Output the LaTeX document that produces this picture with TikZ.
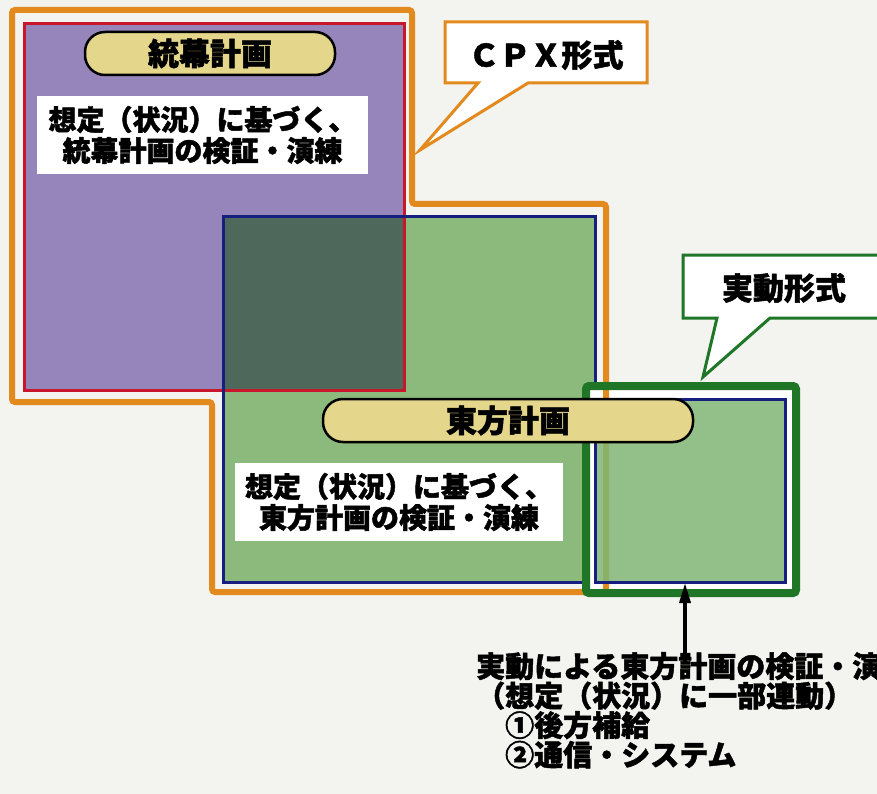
\documentclass[tikz,border=0pt]{standalone}
\usepackage{fontspec}
\setmainfont{Noto Sans CJK JP}[BoldFeatures={FakeBold=1.6}]
\usetikzlibrary{arrows.meta}

\definecolor{paper}{RGB}{243,243,239}
\definecolor{toubakufill}{RGB}{150,133,186}
\definecolor{touhoufill}{RGB}{140,186,124}
\definecolor{overlapfill}{RGB}{78,104,92}
\definecolor{jdfill}{RGB}{128,182,116}
\definecolor{cpxorange}{RGB}{226,138,30}
\definecolor{toubakured}{RGB}{200,22,42}
\definecolor{touhoublue}{RGB}{22,30,128}
\definecolor{jdgreen}{RGB}{30,118,38}
\definecolor{pillyellow}{RGB}{228,214,138}

\begin{document}
\begin{tikzpicture}[x=1pt,y=-1pt,
		pill/.style={draw=black,line width=2.5pt,fill=pillyellow,rounded corners=20pt,
			minimum height=43pt,inner sep=0pt,font=\fontsize{31}{31}\selectfont\bfseries},
		whitebox/.style={fill=white,inner xsep=8pt,inner ysep=0pt,align=center,
			font=\fontsize{28}{31}\selectfont\bfseries},
		tag/.style={inner sep=0pt,font=\fontsize{31}{31}\selectfont\bfseries}]
		\useasboundingbox [fill=paper] (0,0) rectangle (877,794);
		% Regions
			\fill [toubakufill] (24,24) rectangle (404,390);
			\fill [touhoufill] (223,217) rectangle (595,582);
			\fill [overlapfill] (223,217) rectangle (404,390);
			\draw [toubakured,line width=3pt] (24,24) rectangle (404,390);
			\draw [touhoublue,line width=3pt] (223,217) rectangle (595,582);
			\fill [white] (586,386) rectangle (796,593);
			\draw [cpxorange,line width=6pt,rounded corners=3pt] (12,10) -- (412,10) -- (412,204) -- (606,204)
				-- (606,592) -- (212,592) -- (212,402) -- (12,402) -- cycle;
			\draw [touhoublue,line width=3pt,fill=jdfill,fill opacity=0.85] (595,399) rectangle (785,582);
			\draw [jdgreen,line width=8pt,rounded corners=3pt] (586,386) rectangle (796,593);
			\coordinate (jdin) at (685,583);

		% Callouts
			\draw [cpxorange,line width=3pt,fill=white] (445,22) -- (647,22) -- (647,83) -- (528,83)
				-- (420,150) -- (478,83) -- (445,83) -- cycle;
			\node [tag] (cpx) at (546,55) {ＣＰＸ形式};
			\draw [jdgreen,line width=3pt,fill=white] (683,255) -- (900,255) -- (900,318) -- (770,318)
				-- (703,377) -- (717,318) -- (683,318) -- cycle;
			\node [tag] (jd) at (784,288) {実動形式};

		% Labels
			\node [pill,minimum width=250pt] (toubaku) at (210,53.5) {統幕計画};
			\node [whitebox,minimum width=331pt,minimum height=78pt] (sotei1) at (202.5,135)
				{想定（状況）に基づく、\\統幕計画の検証・演練};
			\node [pill,minimum width=370pt] (touhou) at (508,420.5) {東方計画};
			\node [whitebox,minimum width=328pt,minimum height=78pt] (sotei2) at (399,502)
				{想定（状況）に基づく、\\東方計画の検証・演練};

		% Note
			\node [anchor=north west,align=left,inner sep=0pt,font=\fontsize{29}{29.5}\selectfont\bfseries] (jdtxt) at (476,652)
				{実動による東方計画の検証・演練\\（想定（状況）に一部連動）\\\hspace*{29pt}①後方補給\\\hspace*{29pt}②通信・システム};
			\coordinate (jdbot) at (685,664);
			\draw [line width=3.5pt,-{Triangle[width=11pt,length=20pt]}] (jdbot) -- (jdin);

		\end{tikzpicture}
\end{document}
